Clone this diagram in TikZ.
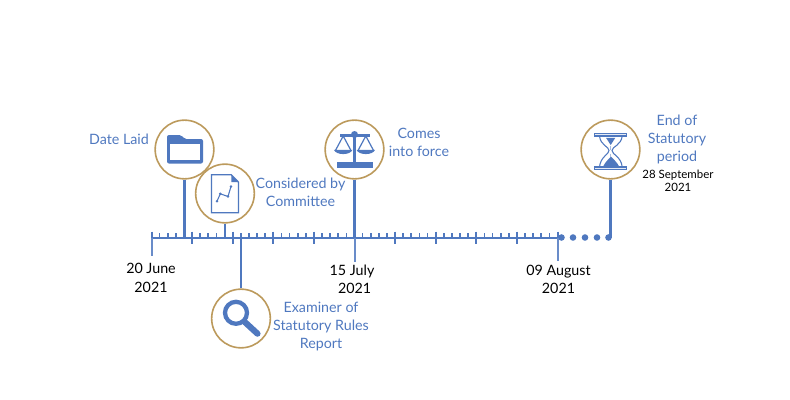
\documentclass[tikz,border=0pt]{standalone}
\usepackage{fontspec}
\setmainfont{Lato}
\usepackage{xcolor}
\definecolor{lineblue}{HTML}{4F78BF}
\definecolor{ringgold}{HTML}{BC9A5C}
\usetikzlibrary{calc}
\tikzset{
  ring/.style={circle, draw=ringgold, line width=1.2pt, fill=white, minimum size=44pt, inner sep=0pt},
  stem/.style={draw=lineblue, line width=1.7pt},
  axis/.style={draw=lineblue, line width=1.5pt},
  tick/.style={draw=lineblue, line width=1.5pt},
  datetick/.style={draw=lineblue!85, line width=1.5pt},
  event/.style={text=lineblue, align=center, inner sep=0pt, font=\fontsize{10.7}{13.5}\selectfont},
  datelabel/.style={text=black, align=center, inner sep=0pt, font=\fontsize{10.7}{13.7}\selectfont},
  smalldate/.style={text=black, align=center, inner sep=0pt, font=\fontsize{8.6}{9.8}\selectfont},
  pics/folder/.style={code={
    \fill[lineblue, rounded corners=1.5pt] (-17.5,14) -- (-17.5,-14.5) -- (-3,-14.5) -- (0,-10.5) -- (18.5,-10.5) -- (18.5,14) -- cycle;
    \fill[white] (-14.5,-6) rectangle (15.5,10);
  }},
  pics/graphdoc/.style={code={
    \draw[lineblue, line width=1pt] (-13.5,-18.7) -- (6.3,-18.7) -- (13.5,-11.3) -- (13.5,19.2) -- (-13.5,19.2) -- cycle;
    \fill[lineblue] (6.3,-18.7) -- (13.5,-11.3) -- (6.3,-11.3) -- cycle;
    \draw[lineblue, line width=0.8pt] (-8,7.7) -- (-4.7,0.3) -- (3,3) -- (6,-7);
    \foreach \ptx/\pty in {-8/7.7, -4.7/0.3, 3/3, 6/-7}
      \fill[lineblue] (\ptx,\pty) circle (1.4);
  }},
  pics/lens/.style={code={
    \draw[lineblue, line width=3.2pt] (-5,-5.7) circle (11);
    \draw[lineblue, line width=4.6pt, line cap=round] (4,3.7) -- (16.5,15.2);
  }},
  pics/balance/.style={code={
    \fill[lineblue] (-18,12.7) rectangle (18,18.3);
    \draw[lineblue, line width=1.6pt] (0,-14) -- (0,13);
    \draw[lineblue, line width=1.6pt] (-14.3,-14) -- (15,-14);
    \fill[lineblue] (0,-15) circle (3.5);
    \foreach \panx in {-11.3,11.3} {
      \draw[lineblue, line width=0.9pt] (\panx-7.5,0.5) -- (\panx,-13.5) -- (\panx+7.5,0.5);
      \fill[lineblue] (\panx-9.3,0.3) -- (\panx+9.3,0.3) .. controls (\panx+7,6) and (\panx-7,6) .. (\panx-9.3,0.3) -- cycle;
    }
  }},
  pics/sandglass/.style={code={
    \draw[lineblue, line width=0.8pt, fill=lineblue!15] (-15.7,-16) rectangle (16,-13.5);
    \draw[lineblue, line width=0.8pt, fill=lineblue!15] (-15.7,17.5) rectangle (16,20);
    \draw[lineblue, line width=0.8pt] (-11,-13.5) .. controls (-10,-4) and (-1.5,-3) .. (-1.5,1)
      .. controls (-1.5,5) and (-10,7) .. (-11,17.5);
    \draw[lineblue, line width=0.8pt] (11.7,-13.5) .. controls (10.7,-4) and (1.5,-3) .. (1.5,1)
      .. controls (1.5,5) and (10.7,7) .. (11.7,17.5);
    \fill[lineblue] (-4.5,-11.7) -- (4.8,-11.7) -- (0.2,-4.5) -- cycle;
    \fill[lineblue] (-7.5,17.2) .. controls (-5,12) and (-2,10) .. (0.5,7) .. controls (3,10) and (6,12) .. (8.8,17.2) -- cycle;
    \draw[lineblue!50, line width=0.7pt, dashed] (0.2,-4) -- (0.2,7);
  }}
}

\begin{document}
\begin{tikzpicture}[x=0.75pt, y=-0.75pt]
\useasboundingbox (0,0) rectangle (790,400);

% time axis
\coordinate (axisstart) at (151.5,237.5);
\coordinate (axisend) at (557.5,237.5);
\coordinate (dotsend) at (610.5,237.5);
\draw[axis] (axisstart)--(axisend);
\foreach \major in {0,...,10} {
  \draw[tick] ($(axisstart)+(40.6*\major,-6)$)--($(axisstart)+(40.6*\major,6)$);
}
\foreach \major in {0,...,9} {
  \foreach \minor in {1,2,3,4} {
    \draw[tick, line width=1.3pt] ($(axisstart)+(40.6*\major+8.12*\minor,-4.5)$)--($(axisstart)+(40.6*\major+8.12*\minor,0)$);
  }
}
\foreach \dotx in {561.5,573,585,597,608.5} {
  \fill[lineblue] (\dotx,237.5) circle (3.3);
}

% circles
\node[ring] (datelaid) at (184.5,149.5) {};
\node[ring] (committee) at (225,193.5) {};
\node[ring] (examiner) at (241,318.5) {};
\node[ring] (inforce) at (354.5,149.5) {};
\node[ring] (statend) at (610.5,149.5) {};

% date ticks
\coordinate (junestem) at (151.5,256);
\coordinate (julystem) at (354.5,262);
\coordinate (auguststem) at (557.5,261);
\draw[datetick] (axisstart)--(junestem);
\draw[datetick] (axisstart-|julystem)--(julystem);
\draw[datetick] (axisend)--(auguststem);

% stems
\draw[stem] (datelaid)--(datelaid|-axisstart);
\draw[stem] (committee)--(committee|-axisstart);
\draw[stem] (examiner)--(examiner|-axisstart);
\draw[stem] (inforce)--(inforce|-axisstart);
\draw[stem] (statend)--(dotsend);

% icons
\pic at (datelaid) {folder};
\pic at (committee) {graphdoc};
\pic at (examiner) {lens};
\pic at (inforce) {balance};
\pic at (statend) {sandglass};

% labels
\node[event] (datelaidtext) at (119,139.5) {Date Laid};
\node[event] (committeetext) at (300.5,192.5) {Considered by\\Committee};
\node[event] (examinertext) at (321,326.5) {Examiner of\\Statutory Rules\\Report};
\node[event] (inforcetext) at (419,142.5) {Comes\\into force};
\node[event] (statendtext) at (677,139.5) {End of\\Statutory\\period};
\node[smalldate] (statenddate) at (678,181) {28 September\\2021};
\node[datelabel] (junedate) at (151,278) {20 June\\2021};
\node[datelabel] (julydate) at (352,279.5) {15 July\\\hspace*{4pt}2021};
\node[datelabel] (augustdate) at (558.5,279.5) {09 August\\2021};
\end{tikzpicture}
\end{document}
